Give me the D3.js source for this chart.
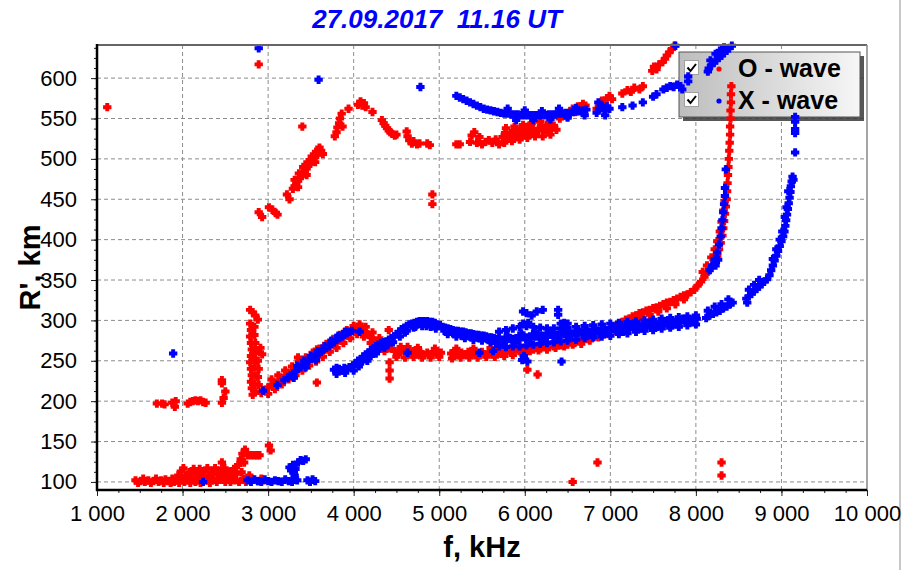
<!DOCTYPE html>
<html>
<head>
<meta charset="utf-8">
<script src="https://cdn.jsdelivr.net/npm/d3@7"></script>
<style>
  html, body { margin: 0; padding: 0; background: #fff; }
  svg { display: block; font-family: "Liberation Sans", Arial, sans-serif; }
</style>
</head>
<body>
<svg id="chart" width="905" height="570"></svg>
<script>
/* Ionogram: virtual height R' (km) vs frequency f (kHz), O and X traces. */
const title = "27.09.2017  11.16 UT";
const seriesNames = ["O - wave", "X - wave"];
const xTicks = [1000, 2000, 3000, 4000, 5000, 6000, 7000, 8000, 9000, 10000];
const yTicks = [100, 150, 200, 250, 300, 350, 400, 450, 500, 550, 600];

/* O-wave (red), [f kHz, R' km] */
const oLow = [
  [1450,102],[1480,99],[1510,101],[1540,104],[1560,100],[1600,102],[1630,99],[1660,101],[1690,104],
  [1720,100],[1750,102],[1780,99],[1800,103],[1830,101],[1860,99],[1880,104],[1900,100],[1930,102],
  [1950,108],[1960,99],[1980,113],[1990,104],[2010,117],[2020,100],[2040,108],[2060,103],[2080,112],
  [2090,99],[2110,105],[2130,116],[2150,100],[2160,110],[2180,104],[2200,116],[2210,99],[2230,108],
  [2250,113],[2270,102],[2290,117],[2300,107],[2320,99],[2340,112],[2360,104],[2380,117],[2400,100],
  [2410,109],[2430,114],[2450,103],[2460,124],[2470,110],[2490,117],[2500,100],[2520,106],[2540,113],
  [2560,100],[2580,108],[2600,116],[2610,102],[2630,110],[2650,121],[2660,100],[2680,128],[2690,112],
  [2700,135],[2710,104],[2720,124],[2730,140],[2740,100],[2760,133],[2780,108],[2800,133],[2820,103],
  [2840,133],[2870,133],[2880,101],[2900,133],[2920,104],[2950,102],[3010,145],[3030,139],
  [1700,197],[1760,197],[1790,196],[1880,198],[1910,193],[1920,200],[2060,197],[2090,199],[2120,200],
  [2150,201],[2180,200],[2210,201],[2240,199],[2270,198],[2460,198],[2480,204],[2500,212],[2460,222],[2460,226]
];
const oMain = [
  [2790,313],[2820,310],[2850,306],[2880,301],
  [2790,296],[2800,288],[2790,280],[2800,272],[2810,264],[2800,256],[2790,248],[2800,240],[2810,232],
  [2800,224],[2810,216],[2820,208],[2840,292],[2840,282],[2850,272],[2840,262],[2850,252],[2840,242],
  [2850,232],[2840,222],[2850,212],[2880,262],[2880,250],[2890,240],[2880,230],[2890,220],[2910,266],[2930,258],
  [2920,210],[2960,214],[3000,217],[3040,220],[3080,222],[3120,225],[3160,228],[3200,231],[3240,234],
  [3280,237],[3320,239],[3360,242],[3400,245],[3440,248],[3480,251],[3520,254],[3560,256],[3600,259],
  [3640,262],[3680,265],[3720,268],[3760,271],[3800,273],[3840,276],[3880,279],[3920,282],[3960,285],
  [4000,288],[4040,290],[4080,290],[4120,287],[4160,283],[4200,279],[4240,275],[4280,272],[4320,270],
  [4360,268],[4400,266],[4440,265],
  [3000,209],[3080,215],[3160,221],[3240,227],[3320,232],[3400,238],[3480,244],[3560,249],[3640,255],
  [3720,261],[3800,266],[3880,272],[3960,278],[4040,283],[4120,280],[4200,272],[4280,266],[4360,262],
  [3040,227],[3120,232],[3200,238],[3280,243],[3360,249],[3440,254],[3520,260],[3600,265],[3680,271],
  [3760,277],[3840,282],[3920,288],[4000,293],[4070,295],[4140,292],[4220,285],[4300,278],[4380,272],
  [4480,262],[4520,258],[4560,264],[4600,260],[4630,267],[4660,258],[4700,262],[4740,258],[4780,261],
  [4820,257],[4860,260],[4900,258],[4940,261],[4980,258],[5020,260],[5140,259],[5180,262],[5220,257],
  [5260,260],[5300,258],[5340,261],[5380,257],[5420,260],[5460,258],[5500,261],[5540,258],[5580,260],
  [5620,258],[5660,262],[5700,259],[5740,263],[5780,260],[5820,264],[5860,261],[5900,265],[5940,262],
  [4500,255],[4600,254],[4700,255],[4800,254],[4900,254],[5000,255],[5150,253],[5250,254],[5350,254],
  [5450,254],[5550,255],[5650,255],[4550,267],[4750,266],[4950,265],[5200,265],[5400,265],[5600,266],
  [5980,266],[6020,263],[6060,267],[6100,264],[6140,268],[6180,265],[6220,269],[6260,266],[6300,270],
  [6340,268],[6380,271],[6420,269],[6460,272],[6500,270],[6540,274],[6580,272],[6620,276],[6660,274],
  [6700,278],[6740,277],[6780,281],[6820,280],[6860,285],[6900,284],[6940,288],[6980,288],[7020,292],
  [7060,292],[7100,296],[7140,298],[7180,301],[7220,302],[7260,305],[7300,306],[7340,309],[7380,310],
  [7420,312],[7460,313],[7500,315],[7540,316],[7580,318],[7620,320],[7660,322],[7700,323],[7740,325],
  [7780,327],[7820,329],[7860,331],
  [5760,256],[5860,257],[5960,260],[6060,262],[6160,263],[6260,264],[6360,266],[6460,268],[6560,270],
  [6660,271],[6760,275],[6860,279],[6960,283],[7060,287],[7160,292],[7260,299],[7360,304],[7460,307],
  [7560,311],[7660,315],[7760,320],[7860,326],
  [7900,332],[7940,335],[7980,338],[8020,343],[8060,348],[8100,354],[8140,360],[8180,366],[8220,373],
  [8250,380],[8270,388],[8290,396],[8310,405],[8320,414],[8330,423],[8340,432],[8350,441],[8360,450],
  [8365,460],[8370,470],[8375,480],[8380,490],[8385,500],[8390,510],[8395,520],[8400,530],[8400,540],
  [8405,550],[8405,560],[8410,570],[8410,580],[8415,590],
  [8080,360],[8130,368],[8180,378],[8220,388],[8250,398],[8280,410],[8300,422],[8320,436],[8335,448]
];
const oUpper = [
  [2890,434],[2930,428],[3010,440],[3050,437],[3090,433],[3110,431],[3220,456],[3250,450],
  [3290,463],[3310,466],[3330,470],[3350,473],[3370,476],[3390,479],[3410,482],[3430,485],[3450,488],
  [3470,491],[3490,494],[3510,497],[3530,500],[3550,502],[3570,505],[3590,508],[3620,510],[3640,506],
  [3310,474],[3360,482],[3410,490],[3460,496],[3510,503],[3560,509],[3600,514],[3350,465],[3450,480],[3550,496],
  [3780,528],[3800,533],[3810,539],[3830,544],[3840,550],[3860,556],[3870,540],[3940,562],[4050,567],
  [4080,571],[4100,566],[4120,569],[4140,564],[4220,558],[4330,548],[4350,544],[4370,541],[4390,538],
  [4410,535],[4430,533],[4450,531],[4480,529],[4500,530],[4620,534],[4630,528],[4650,523],[4680,519],
  [4700,522],[4740,518],[4770,519],[4860,519],[4890,517],
  [5200,518],[5240,518],[5360,521],[5380,529],[5410,533],[5440,520],[5470,527],[5500,518],[5540,521],
  [5580,523],[5620,520],[5660,524],[5700,518],
  [5740,527],[5770,532],[5800,525],[5830,530],[5860,535],[5890,528],[5920,532],[5950,537],[5980,530],
  [6010,535],[6040,540],[6070,533],[6100,537],[6130,531],[6160,536],[6190,541],[6220,535],[6250,539],
  [6280,533],[6310,538],[6340,541],[6370,536],
  [5760,520],[5850,522],[5940,524],[6030,526],[6120,528],[6210,528],[6300,530],[5780,538],[5880,540],
  [5980,542],[6080,544],[6180,546],[6280,545],
  [6410,550],[6440,553],[6470,556],[6500,552],[6530,559],[6560,562],[6590,558],[6620,565],[6650,561],
  [6680,568],[6710,566],[6840,562],[6870,567],[6900,572],[6930,568],[6960,575],[6990,578],[7020,574],
  [7140,581],[7200,585],[7240,583],[7280,588],[7340,586],[7380,590],
  [7490,609],[7510,614],[7540,611],[7570,617],[7610,620],[7640,624],[7660,628],[7690,632],[7720,636],[7750,640]
];
const oStray = [
  [1120,564],[2890,617],[3400,540],[4920,456],[4920,444],[4410,288],[4420,248],[4420,238],[4420,228],
  [3570,223],[3350,254],[3570,264],[6030,239],[6150,233],[6560,100],[6850,124],[8300,124],[8300,108]
];

/* X-wave (blue), [f kHz, R' km] */
const xLow = [
  [2240,100],[2760,102],[2800,100],[2840,103],[2880,101],[2920,100],[2960,103],[3000,101],[3040,100],
  [3080,102],[3120,101],[3160,100],[3200,103],[3240,101],[3280,100],[3310,104],[3310,108],[3340,102],
  [3460,102],[3490,100],[3520,103],[3550,101],[3250,118],[3270,114],[3290,121],[3300,112],[3320,116],
  [3350,124],[3380,127],[3410,126],[3440,128],[1890,259]
];
const xMain = [
  [2940,213],[3110,220],[3190,226],[3230,229],[3260,232],[3290,234],[3320,237],[3350,240],[3380,242],
  [3410,245],[3440,247],[3470,250],[3500,252],[3530,254],[3560,257],[3590,259],[3620,261],[3650,264],
  [3680,266],[3710,268],[3740,271],[3770,273],[3800,276],[3830,278],[3860,280],[3890,282],[3920,284],
  [3950,286],[3980,287],[4070,286],[3340,244],[3420,250],[3500,256],[3580,262],[3660,268],[3740,275],
  [3820,281],[3900,286],[3300,229],[3440,242],[3560,251],
  [3770,239],[3800,241],[3830,240],[3860,238],[3890,241],[3920,240],[3950,242],[3990,244],[4020,247],
  [4050,250],[4080,252],[4110,255],[4140,258],[4170,260],[4200,263],[4230,265],[4260,268],[4290,270],
  [4320,272],[4350,273],[4380,274],[4410,276],[4440,278],[4470,280],[4500,283],[4530,286],[4560,289],
  [4590,291],[4620,293],[4650,295],[4680,296],[4710,297],[4740,298],[4770,299],[4800,299],[4830,299],
  [4860,299],[4890,298],[4920,298],[4950,297],[4980,295],[5010,294],[5040,292],[5070,291],[5100,290],
  [5130,289],[5160,288],[5190,287],[5220,287],[5250,286],[5280,286],[5310,285],[5340,284],[5370,284],
  [5400,283],[5430,282],[5460,282],[5490,281],[5520,281],[5550,280],[5580,279],[5610,279],[5640,278],
  [5670,277],[5300,278],[5400,276],[5500,275],[5600,273],[5200,280],[5100,283],[4700,291],[4800,293],
  [4900,292],[4600,285],[4300,265],[4200,256],[4100,249],[4400,270],[4000,238],[3900,235],
  [3800,234],[4060,243],[4160,250],[4260,259],[4360,266],[4460,273],[4540,280],[4620,287],[4720,292],
  [4850,293],[4960,290],[5060,287],[5160,284],[5260,281],[5360,280],[5460,278],[5560,277],[5660,272],
  [4630,260],[5470,260],[5630,262]
];
const xBand = [
  [5700,277],[5740,276],[5780,276],[5820,277],[5860,277],[5900,278],[5940,278],[5980,279],[6020,279],
  [6060,280],[6100,280],[6140,280],[6180,281],[6220,281],[6260,281],[6300,282],[6340,282],[6380,282],
  [6420,283],[6460,283],[6500,283],[6540,284],[6580,284],[6620,284],[6660,285],[6700,285],[6740,286],
  [6780,286],[6820,286],[6860,287],[6900,287],[6940,288],[6980,288],[7020,289],[7060,289],[7100,290],
  [7140,290],[7180,291],[7220,291],[7260,292],[7300,292],[7340,293],[7380,293],[7420,294],[7460,294],
  [7500,295],[7540,295],[7580,296],[7620,296],[7660,297],[7700,297],[7740,298],[7780,298],[7820,299],
  [7860,300],[7900,300],[7940,301],[7980,301],[8010,302],
  [5700,286],[5780,288],[5860,290],[5940,292],[6020,293],[6100,292],[6180,291],[6260,290],[6340,290],
  [6420,290],[6500,291],[6600,292],[6700,293],[6800,294],[6900,295],[7000,296],[7100,297],[7200,298],
  [7300,299],[7400,300],[7500,301],[7600,302],[7700,303],[7800,304],[7900,305],[8000,306],
  [5700,268],[5780,267],[5860,268],[5940,268],[6020,269],[6100,270],[6180,271],[6260,272],[6340,273],
  [6420,274],[6500,275],[6600,276],[6700,278],[6800,279],[6900,280],[7000,281],[7100,283],[7200,284],
  [7300,286],[7400,287],[7500,288],[7600,290],[7700,291],[7800,292],[7900,294],[8000,295],
  [5720,272],[5800,281],[5880,273],[5960,284],[6040,274],[6120,286],[6200,276],[6280,286],[6360,277],
  [6440,287],[6520,279],[6620,288],[6720,281],[6820,290],[6920,283],[7040,292],[7150,286],[7250,295],
  [7350,290],[7450,297],[7550,292],[7650,299],[7750,295],[7850,302],[7950,298],
  [5980,311],[6020,309],[6080,306],[6140,311],[6210,313],[6390,313],[6390,307],[5980,296],[6040,297],
  [6420,296],[6460,297],[6500,296],[5970,251],[6030,249],[6430,249],[5990,256],
  [8120,303],[8160,306],[8200,308],[8240,310],[8280,312],[8320,315],[8360,317],[8400,320],[8430,322],
  [8140,312],[8220,317],[8300,320],[8380,326],
  [8590,327],[8620,330],[8650,333],[8680,336],[8710,339],[8740,342],[8770,345],[8800,348],[8830,351],
  [8620,338],[8680,344],[8740,350],[8600,322],
  [8860,356],[8880,362],[8900,368],[8920,374],[8940,380],[8960,386],[8980,392],[9000,398],[9020,404],
  [9035,410],[9045,417],[9055,424],[9065,431],[9075,438],[9085,445],[9095,452],[9105,459],[9110,466],
  [9120,472],[9130,478],[9140,474],[8900,376],[8940,388],[8980,400],[9010,410],[9040,428],[9060,440],
  [9080,460],[9160,508],[9160,532],[9160,537],[9160,546],[9160,552],
  [8160,362],[8190,368],[8220,376],[8250,384],[8270,394],[8290,404],[8300,414],[8310,424],[8320,434],
  [8330,444],[8340,454],[8340,464],[8350,487],[8230,368],[8260,375]
];
const xUpper = [
  [2890,637],[3590,598],[4780,589],[5200,578],[5240,576],[5280,574],[5320,572],[5360,570],[5400,568],
  [5440,566],[5480,564],[5520,562],[5560,561],[5600,560],[5640,559],[5680,558],[5720,557],[5760,556],
  [5800,556],[5840,555],[5880,555],[5920,555],[5960,554],[6000,554],[6040,554],[6080,554],[6120,554],
  [6160,554],[6200,554],[6240,554],[6280,555],[6320,555],[6360,555],[6400,556],[6440,556],[6480,557],
  [6520,557],[6560,558],[6600,559],[6640,559],[6680,560],[6720,561],[5800,562],[5900,548],[6000,560],
  [6100,548],[6200,559],[6300,549],[6400,562],[6500,551],[6600,563],[6700,554],
  [6840,557],[6870,562],[6900,566],[6930,560],[6960,565],[6990,562],[6860,570],[6940,554],
  [7140,564],[7260,566],[7380,570],[7500,577],[7540,580],[7620,586],[7660,588],[7700,590],[7740,589],
  [7780,592],[7820,590],[7840,586],[7910,596],[7910,602],
  [8150,612],[8180,616],[8210,619],[8240,622],[8270,625],[8300,628],[8330,631],[8360,634],[8390,637],
  [8420,640],[8170,622],[8230,630],[8280,634],[8330,638],[8140,608],[7760,640]
];

const W = 905, H = 570;
const margin = { left: 97, right: 867, top: 45, bottom: 490 };

const svg = d3.select("#chart");
const x = d3.scaleLinear().domain([1000, 10000]).range([margin.left, margin.right]);
const y = d3.scaleLinear().domain([90, 641]).range([margin.bottom, margin.top]);
const fmt = d3.formatLocale({ decimal: ".", thousands: " ", grouping: [3], currency: ["", ""] }).format(",d");

/* window edge line on the far right */
svg.append("line").attr("x1", 900).attr("x2", 900).attr("y1", 0).attr("y2", H)
  .attr("stroke", "#c8c8c8").attr("stroke-width", 2);

/* title */
svg.append("text")
  .attr("x", 437).attr("y", 28)
  .attr("text-anchor", "middle")
  .style("white-space", "pre")
  .attr("font-size", 26).attr("font-weight", "bold").attr("font-style", "italic")
  .attr("fill", "#0000ff")
  .text(title);

/* grid */
const grid = svg.append("g").attr("stroke", "#8c8c8c").attr("stroke-dasharray", "4,3").attr("stroke-width", 1);
grid.selectAll(".gx").data(xTicks.slice(1, -1)).join("line")
  .attr("x1", d => x(d)).attr("x2", d => x(d)).attr("y1", margin.top).attr("y2", margin.bottom);
grid.selectAll(".gy").data(yTicks).join("line")
  .attr("x1", margin.left).attr("x2", margin.right).attr("y1", d => y(d)).attr("y2", d => y(d));

/* axes */
const yAxis = svg.append("g").attr("transform", `translate(${margin.left},0)`)
  .call(d3.axisLeft(y).tickValues(yTicks).tickSize(6).tickPadding(14));
const yMinor = svg.append("g").attr("transform", `translate(${margin.left},0)`)
  .call(d3.axisLeft(y).tickValues(d3.range(100, 641, 12.5)).tickSize(3).tickFormat(""));
const xAxis = svg.append("g").attr("transform", `translate(0,${margin.bottom})`)
  .call(d3.axisBottom(x).tickValues(xTicks).tickSize(6).tickPadding(9).tickFormat(fmt));
const xMinor = svg.append("g").attr("transform", `translate(0,${margin.bottom})`)
  .call(d3.axisBottom(x).tickValues(d3.range(1000, 10001, 250)).tickSize(3).tickFormat(""));
[yAxis, yMinor, xAxis, xMinor].forEach(a => {
  a.select(".domain").remove();
  a.selectAll("line").attr("stroke", "#222");
  a.selectAll("text").attr("font-size", 22).attr("fill", "#000")
    .attr("font-family", "'Liberation Sans', Arial, sans-serif");
});

/* axis titles */
svg.append("text")
  .attr("x", (margin.left + margin.right) / 2).attr("y", 557)
  .attr("text-anchor", "middle").attr("font-size", 29).attr("font-weight", "bold")
  .text("f, kHz");
svg.append("text")
  .attr("transform", `translate(40,${(margin.top + margin.bottom) / 2}) rotate(-90)`)
  .attr("text-anchor", "middle").attr("font-size", 29).attr("font-weight", "bold")
  .text("R', km");

/* legend (drawn under the data) */
const defs = svg.append("defs");
const grad = defs.append("linearGradient").attr("id", "lg").attr("x1", 0).attr("x2", 1).attr("y1", 0).attr("y2", 0);
grad.append("stop").attr("offset", "0%").attr("stop-color", "#bdbdbd");
grad.append("stop").attr("offset", "100%").attr("stop-color", "#f6f6f6");
const lg = svg.append("g");
lg.append("rect").attr("x", 683).attr("y", 56).attr("width", 181).attr("height", 65).attr("fill", "#3a3a3a").attr("opacity", 0.85);
lg.append("rect").attr("x", 679).attr("y", 52).attr("width", 181).attr("height", 65)
  .attr("fill", "url(#lg)").attr("stroke", "#555").attr("stroke-width", 1);
const legendColors = ["#ff0000", "#0000ff"];
seriesNames.forEach((name, i) => {
  const cy = 68 + i * 32;
  lg.append("rect").attr("x", 684.5).attr("y", cy - 7.5).attr("width", 14).attr("height", 14)
    .attr("fill", "#fff").attr("stroke", "#a0a0a0");
  lg.append("path").attr("d", `M${687.5},${cy - 0.5} L${690.5},${cy + 3} L${696},${cy - 4}`)
    .attr("fill", "none").attr("stroke", "#000").attr("stroke-width", 2);
  lg.append("circle").attr("cx", 719).attr("cy", cy + 1).attr("r", 2.6).attr("fill", legendColors[i]);
  lg.append("text").attr("x", 738).attr("y", cy + 9).attr("font-size", 25).attr("font-weight", "bold")
    .attr("fill", "#000").text(name);
});

/* data: fat plus markers */
const fatPlus = {
  draw(ctx, size) {
    const e = Math.sqrt(size) / 2, t = e * 0.47;
    ctx.moveTo(-t, -e); ctx.lineTo(t, -e); ctx.lineTo(t, -t); ctx.lineTo(e, -t);
    ctx.lineTo(e, t); ctx.lineTo(t, t); ctx.lineTo(t, e); ctx.lineTo(-t, e);
    ctx.lineTo(-t, t); ctx.lineTo(-e, t); ctx.lineTo(-e, -t); ctx.lineTo(-t, -t);
    ctx.closePath();
  }
};
const marker = d3.symbol(fatPlus, 70)();
function drawSeries(data, color) {
  svg.append("g").selectAll("path").data(data).join("path")
    .attr("transform", d => `translate(${x(d[0])},${y(d[1])})`)
    .attr("d", marker).attr("fill", color);
}
[oLow, oMain, oUpper, oStray].forEach(s => drawSeries(s, "#ff0000"));
[xLow, xMain, xBand, xUpper].forEach(s => drawSeries(s, "#0000ff"));

/* frame: black left/bottom axes, gray top/right */
svg.append("line").attr("x1", margin.left).attr("x2", margin.right).attr("y1", margin.top).attr("y2", margin.top)
  .attr("stroke", "#666").attr("stroke-width", 2);
svg.append("line").attr("x1", margin.right).attr("x2", margin.right).attr("y1", margin.top).attr("y2", margin.bottom)
  .attr("stroke", "#888").attr("stroke-width", 1.5);
svg.append("line").attr("x1", margin.left).attr("x2", margin.left).attr("y1", margin.top - 1).attr("y2", margin.bottom + 1)
  .attr("stroke", "#000").attr("stroke-width", 2.5);
svg.append("line").attr("x1", margin.left - 1).attr("x2", margin.right).attr("y1", margin.bottom).attr("y2", margin.bottom)
  .attr("stroke", "#000").attr("stroke-width", 2.5);
</script>
</body>
</html>
